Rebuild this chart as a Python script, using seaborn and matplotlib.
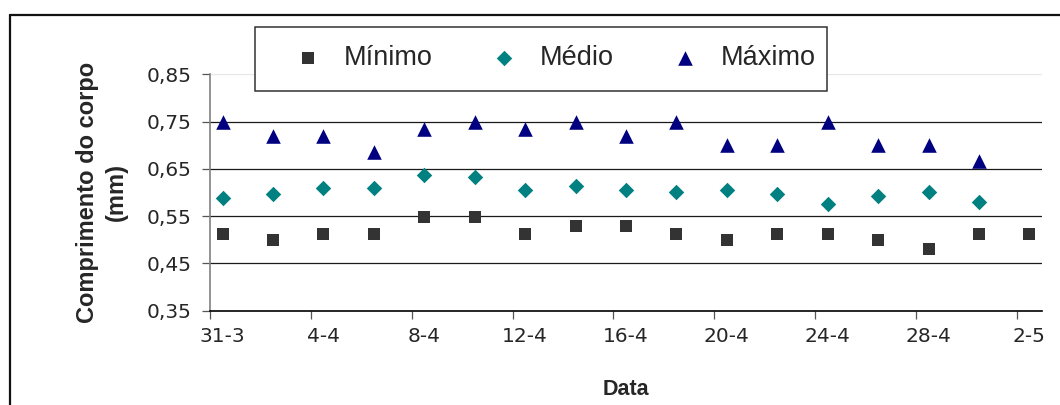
import matplotlib
matplotlib.use("Agg")
import matplotlib.pyplot as plt
from matplotlib.lines import Line2D
from matplotlib.patches import Rectangle
from matplotlib.ticker import FixedLocator, FuncFormatter, NullFormatter
import matplotlib.dates as mdates
import numpy as np
import pandas as pd
import seaborn as sns

# Sampling dates (day-month), every two days
datas = ["31-3", "2-4", "4-4", "6-4", "8-4", "10-4", "12-4", "14-4", "16-4",
         "18-4", "20-4", "22-4", "24-4", "26-4", "28-4", "30-4", "2-5"]

# Body length (mm)
minimo = [0.512, 0.500, 0.512, 0.512, 0.548, 0.548, 0.512, 0.530, 0.530,
          0.512, 0.500, 0.512, 0.512, 0.500, 0.481, 0.512, 0.512]
medio = [0.589, 0.597, 0.610, 0.610, 0.636, 0.632, 0.606, 0.614, 0.605,
         0.601, 0.605, 0.597, 0.576, 0.593, 0.601, 0.579]
maximo = [0.750, 0.720, 0.720, 0.685, 0.735, 0.750, 0.735, 0.750, 0.720,
          0.750, 0.700, 0.700, 0.750, 0.700, 0.700, 0.667]

y_ticks = [0.35, 0.45, 0.55, 0.65, 0.75, 0.85]
x_tick_labels = ["31-3", "4-4", "8-4", "12-4", "16-4", "20-4", "24-4", "28-4", "2-5"]

sns.set_style("white")
plt.rcParams["font.family"] = ["Liberation Sans", "DejaVu Sans"]


def to_date(s):
    d, m = s.split("-")
    return pd.Timestamp(year=2000, month=int(m), day=int(d))


# points sit in the middle of their day slot
half_day = pd.Timedelta(hours=12)
dias = [to_date(s) + half_day for s in datas]

df_min = pd.DataFrame({"Data": dias, "valor": minimo})
df_med = pd.DataFrame({"Data": dias[:len(medio)], "valor": medio})
df_max = pd.DataFrame({"Data": dias[:len(maximo)], "valor": maximo})

fig = plt.figure(figsize=(10.6, 4.05), dpi=100)
W, H = 1060, 405
ax = fig.add_axes([210 / W, 1 - 310.7 / H, 832 / W, 236.4 / H])

sns.scatterplot(data=df_min, x="Data", y="valor", ax=ax, marker="s", s=76,
                color="#333333", linewidth=0, label="Mínimo", zorder=3)
sns.scatterplot(data=df_med, x="Data", y="valor", ax=ax, marker="D", s=62,
                color="#008080", linewidth=0, label="Médio", zorder=3)
sns.scatterplot(data=df_max, x="Data", y="valor", ax=ax, marker="^", s=110,
                color="#000080", linewidth=0, label="Máximo", zorder=3)

# y axis
ax.set_ylim(0.35, 0.85)
ax.yaxis.set_major_locator(FixedLocator(y_ticks))
ax.yaxis.set_major_formatter(FuncFormatter(lambda v, p: f"{v:.2f}".replace(".", ",")))
for v in y_ticks[1:-1]:
    ax.axhline(v, color="#1a1a1a", lw=0.9, zorder=1)
ax.axhline(0.85, color="#e6e6e6", lw=0.9, zorder=1)

# x axis: tick marks on day boundaries, labels centred on the day
start = to_date(x_tick_labels[0])
end = to_date(x_tick_labels[-1]) + pd.Timedelta(days=1)
ax.set_xlim(start, end)
label_days = [to_date(s) for s in x_tick_labels]
ax.xaxis.set_major_locator(FixedLocator(mdates.date2num(label_days)))
ax.xaxis.set_major_formatter(NullFormatter())
ax.xaxis.set_minor_locator(FixedLocator(mdates.date2num([d + half_day for d in label_days])))
ax.xaxis.set_minor_formatter(FuncFormatter(lambda v, p: x_tick_labels[p] if p is not None and p < len(x_tick_labels) else ""))

ax.tick_params(axis="x", which="major", length=6, width=0.9, color="#555555", bottom=True)
ax.tick_params(axis="x", which="minor", length=0, pad=12, labelsize=14.5, bottom=True)
ax.tick_params(axis="y", which="major", length=6, width=0.9, color="#555555", pad=7,
               labelsize=14.5, left=True)
for lab in ax.get_xticklabels(minor=True) + ax.get_yticklabels():
    lab.set_family("DejaVu Sans")

for side in ["top", "right"]:
    ax.spines[side].set_visible(False)
ax.spines["left"].set_color("#808080")
ax.spines["left"].set_linewidth(1.2)
ax.spines["bottom"].set_color("#000000")
ax.spines["bottom"].set_linewidth(1.2)

ax.set_ylabel("Comprimento do corpo\n(mm)", fontsize=17, fontweight="bold",
              linespacing=1.35)
ax.yaxis.set_label_coords((128 - 210) / 832, 0.5)
ax.set_xlabel("Data", fontsize=15.5, fontweight="bold")
ax.xaxis.set_label_coords(0.5, (310.7 - 379) / 236.4)

# legend: frameless entries inside a drawn box
handles, labels = ax.get_legend_handles_labels()
leg = ax.legend(handles, labels, ncol=3, frameon=False, prop={"size": 19.5},
                loc="center left", bbox_to_anchor=(294 / W, 1 - 58 / H),
                bbox_transform=fig.transFigure, borderpad=0, borderaxespad=0,
                handlelength=1.0, handletextpad=0.83, columnspacing=2.13,
                markerscale=1.0)
leg.set_zorder(6)
box = Rectangle((255 / W, 1 - 91 / H), (827 - 255) / W, (91 - 27) / H,
                transform=fig.transFigure, facecolor="white", edgecolor="#333333",
                lw=1.1, zorder=5)
fig.add_artist(box)
fig.add_artist(leg)

# outer chart frame
fig.add_artist(Line2D([10 / W, 1.0], [1 - 15 / H, 1 - 15 / H], transform=fig.transFigure,
                      color="#111111", lw=1.6))
fig.add_artist(Line2D([10 / W, 10 / W], [0.0, 1 - 15 / H], transform=fig.transFigure,
                      color="#111111", lw=1.6))

fig.savefig("out.png", dpi=100)
